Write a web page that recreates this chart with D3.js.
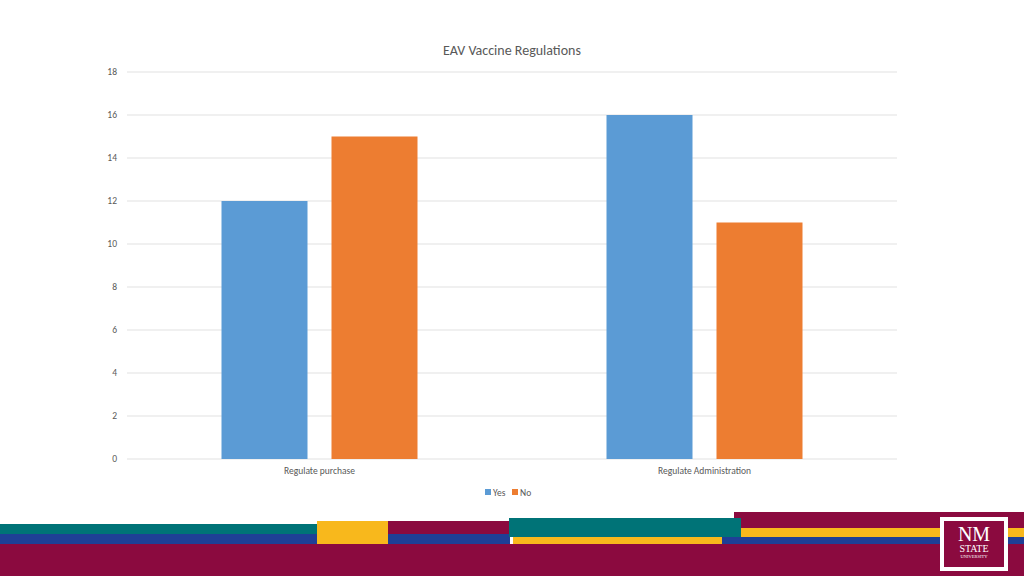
<!DOCTYPE html>
<html><head><meta charset="utf-8">
<script src="https://cdn.jsdelivr.net/npm/d3@7"></script>
<style>body{margin:0;background:#fff}svg{display:block;font-family:Calibri,Carlito,"Liberation Sans",sans-serif}</style>
</head><body>
<script>
var categories = ["Regulate purchase", "Regulate Administration"];
var seriesNames = ["Yes", "No"];
var yesValues = [12, 16];
var noValues = [15, 11];
var yTicks = [0, 2, 4, 6, 8, 10, 12, 14, 16, 18];
var colors = { Yes: "#5B9BD5", No: "#ED7D31" };

var svg = d3.select("body").append("svg").attr("width", 1024).attr("height", 576);

var x = d3.scaleBand().domain(categories).range([127, 897]);
var xs = d3.scaleBand().domain(seriesNames).range([94.5, 290.5]).paddingInner(24 / 110);
var y = d3.scaleLinear().domain([0, 18]).range([459, 72]);

svg.append("text").attr("x", 512).attr("y", 55).attr("text-anchor", "middle")
  .attr("font-size", 14).attr("fill", "#595959").text("EAV Vaccine Regulations");

var grid = svg.append("g");
yTicks.forEach(function (t) {
  grid.append("line").attr("x1", 127).attr("x2", 897).attr("y1", y(t)).attr("y2", y(t))
    .attr("stroke", "#d9d9d9").attr("stroke-width", 0.8);
  grid.append("text").attr("x", 117).attr("y", y(t) + 3).attr("text-anchor", "end")
    .attr("font-size", 9.5).attr("fill", "#595959").text(t);
});

var rows = categories.map(function (c, i) { return { cat: c, Yes: yesValues[i], No: noValues[i] }; });
var g = svg.selectAll(".grp").data(rows).enter().append("g")
  .attr("transform", function (d) { return "translate(" + x(d.cat) + ",0)"; });
g.selectAll("rect").data(function (d) { return seriesNames.map(function (s) { return { s: s, v: d[s] }; }); })
  .enter().append("rect")
  .attr("x", function (d) { return xs(d.s); }).attr("width", xs.bandwidth())
  .attr("y", function (d) { return y(d.v); }).attr("height", function (d) { return y(0) - y(d.v); })
  .attr("fill", function (d) { return colors[d.s]; });

categories.forEach(function (c) {
  svg.append("text").attr("x", x(c) + x.bandwidth() / 2).attr("y", 474).attr("text-anchor", "middle")
    .attr("font-size", 9.5).attr("fill", "#595959").text(c);
});

var lg = svg.append("g").attr("transform", "translate(485,493)");
seriesNames.forEach(function (s, i) {
  var o = i * 27;
  lg.append("rect").attr("x", o).attr("y", -4).attr("width", 6).attr("height", 6).attr("fill", colors[s]);
  lg.append("text").attr("x", o + 8).attr("y", 2.5).attr("font-size", 9.5).attr("fill", "#595959").text(s);
});

// footer band
var M = "#8B0A3F", T = "#007377", B = "#1F3F96", Yl = "#F8B81C";
var blocks = [
  [0, 524, 317, 10, T], [0, 534, 317, 10, B], [317, 521, 71, 23, Yl],
  [388, 521, 122, 13, M], [388, 534, 122, 10, B],
  [722, 537, 302, 7, B], [734, 512, 290, 16, M], [741, 528, 283, 9, Yl],
  [513, 537, 209, 7, Yl], [509, 518, 232, 19, T], [0, 544, 1024, 32, M]
];
svg.selectAll(".band").data(blocks).enter().append("rect")
  .attr("x", function (d) { return d[0]; }).attr("y", function (d) { return d[1]; })
  .attr("width", function (d) { return d[2]; }).attr("height", function (d) { return d[3]; })
  .attr("fill", function (d) { return d[4]; });

svg.append("rect").attr("x", 940).attr("y", 517).attr("width", 68).attr("height", 54).attr("fill", "#fff");
svg.append("rect").attr("x", 944).attr("y", 521).attr("width", 60).attr("height", 46).attr("fill", M);
svg.append("text").attr("x", 974).attr("y", 541).attr("text-anchor", "middle").attr("font-family", "Liberation Serif")
  .attr("font-size", 20).attr("fill", "#fff").text("NM");
svg.append("text").attr("x", 974).attr("y", 552).attr("text-anchor", "middle").attr("font-family", "Liberation Serif")
  .attr("font-size", 10).attr("fill", "#fff").text("STATE");
svg.append("text").attr("x", 974).attr("y", 558).attr("text-anchor", "middle").attr("font-family", "Liberation Serif")
  .attr("font-size", 4.5).attr("fill", "#fff").text("UNIVERSITY");
</script>
</body></html>
